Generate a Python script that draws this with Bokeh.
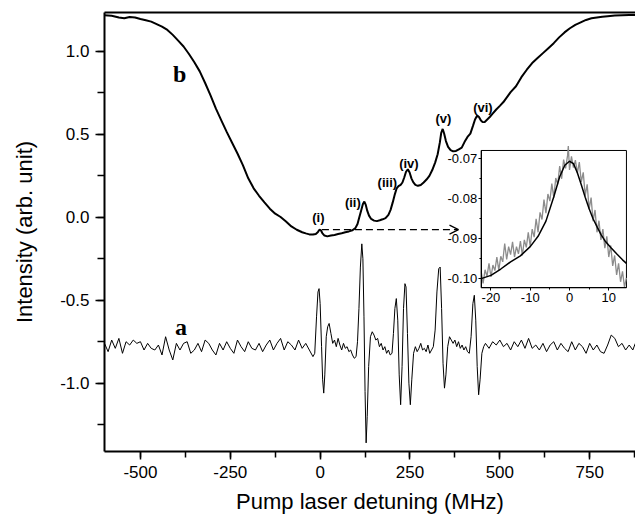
from bokeh.plotting import figure
from bokeh.models import (Range1d, LinearAxis, SingleIntervalTicker, FixedTicker,
                          PrintfTickFormatter, Arrow, OpenHead)
from bokeh.core.properties import value
from bokeh.embed import file_html
from bokeh.resources import INLINE

# ---------------- data ----------------
# trace b (absorption / transmission signal)
b_x = [-600, -580, -560, -545, -530, -515, -500, -485, -470, -455,
       -440, -425, -410, -395, -380, -365, -350, -335, -320, -305,
       -290, -275, -260, -245, -230, -215, -200, -185, -170, -155,
       -140, -125, -110, -95, -80, -65, -50, -40, -30, -20,
       -12, -6, -2, 2, 6, 12, 20, 30, 40, 50,
       60, 70, 80, 90, 98, 104, 109, 114, 119, 123,
       127, 131, 136, 142, 150, 158, 166, 174, 182, 190,
       196, 202, 208, 213, 218, 224, 229, 234, 239, 244,
       249, 254, 259, 265, 272, 280, 288, 296, 304, 312,
       320, 327, 333, 337, 341, 345, 350, 356, 363, 370,
       378, 386, 394, 402, 410, 418, 425, 431, 437, 442,
       447, 452, 458, 465, 472, 480, 490, 500, 510, 520,
       530, 545, 560, 575, 590, 605, 620, 635, 650, 665,
       680, 695, 710, 725, 740, 755, 770, 785, 800, 820,
       840, 860, 877]
b_y = [1.219, 1.215, 1.205, 1.200, 1.208, 1.205, 1.196, 1.188, 1.180, 1.165,
       1.150, 1.130, 1.100, 1.065, 1.030, 0.985, 0.935, 0.880, 0.810, 0.735,
       0.655, 0.585, 0.515, 0.450, 0.385, 0.315, 0.235, 0.175, 0.130, 0.090,
       0.052, 0.022, 0.002, -0.025, -0.055, -0.075, -0.090, -0.097, -0.103, -0.104,
       -0.100, -0.088, -0.075, -0.078, -0.095, -0.110, -0.115, -0.110, -0.106, -0.101,
       -0.096, -0.090, -0.085, -0.078, -0.065, -0.040, 0.000, 0.040, 0.080, 0.095,
       0.075, 0.040, 0.010, -0.010, -0.020, -0.023, -0.018, -0.012, -0.005, 0.015,
       0.045, 0.090, 0.140, 0.175, 0.188, 0.196, 0.210, 0.240, 0.275, 0.290,
       0.270, 0.235, 0.212, 0.196, 0.190, 0.195, 0.210, 0.228, 0.250, 0.285,
       0.330, 0.380, 0.450, 0.510, 0.533, 0.505, 0.460, 0.425, 0.405, 0.398,
       0.400, 0.410, 0.420, 0.455, 0.485, 0.505, 0.550, 0.590, 0.614, 0.605,
       0.585, 0.574, 0.575, 0.590, 0.605, 0.625, 0.650, 0.672, 0.695, 0.725,
       0.755, 0.790, 0.845, 0.890, 0.930, 0.960, 0.990, 1.020, 1.050, 1.085,
       1.115, 1.140, 1.160, 1.175, 1.190, 1.200, 1.205, 1.210, 1.213, 1.217,
       1.219, 1.220, 1.220]

# trace a (derivative / modulation signal)
a_x = [-600, -590, -580, -570, -560, -550, -540, -530, -520, -510,
       -500, -490, -480, -470, -460, -450, -440, -430, -420, -410,
       -400, -390, -380, -370, -360, -350, -340, -330, -320, -310,
       -300, -290, -280, -270, -260, -250, -240, -230, -220, -210,
       -200, -190, -180, -170, -160, -150, -140, -130, -120, -110,
       -100, -90, -80, -70, -60, -50, -40, -30,
       -20, -15, -10, -6, -3, 0, 4, 7, 10, 13,
       17, 21, 25, 30, 35, 40, 45, 50, 55, 60,
       65, 70, 75, 80, 85, 90, 95, 100, 104, 108,
       112, 116, 119, 122, 125, 128, 131, 135, 140, 145,
       150, 155, 160, 165, 170, 175, 180, 185, 190, 195,
       200, 204, 208, 212, 216, 220, 224, 228, 232, 236,
       239, 243, 247, 251, 255, 260, 265, 270, 275, 280,
       285, 290, 295, 300, 305, 310, 315, 320, 325, 330,
       334, 338, 342, 346, 350, 355, 360, 365, 370, 375,
       380, 385, 390, 395, 400, 405, 410, 415, 420, 425,
       429, 433, 437, 441, 445, 450, 455,
       460, 470, 480, 490, 500, 510, 520, 530, 540, 550,
       560, 570, 580, 590, 600, 610, 620, 630, 640, 650,
       660, 670, 680, 690, 700, 710, 720, 730, 740, 750,
       760, 770, 780, 790, 800, 810, 820, 830, 840, 850,
       860, 870, 877]
a_y = [-0.76, -0.81, -0.74, -0.79, -0.73, -0.82, -0.75, -0.77, -0.74, -0.76,
       -0.75, -0.80, -0.76, -0.79, -0.80, -0.77, -0.83, -0.72, -0.80, -0.86,
       -0.76, -0.80, -0.76, -0.75, -0.82, -0.80, -0.76, -0.81, -0.74, -0.76,
       -0.80, -0.83, -0.76, -0.80, -0.75, -0.79, -0.82, -0.74, -0.78, -0.81,
       -0.75, -0.79, -0.80, -0.76, -0.81, -0.77, -0.74, -0.80, -0.76, -0.73,
       -0.80, -0.75, -0.77, -0.80, -0.74, -0.79, -0.76, -0.80,
       -0.84, -0.82, -0.60, -0.45, -0.43, -0.52, -0.78, -0.98, -1.06, -0.95,
       -0.72, -0.66, -0.64, -0.70, -0.76, -0.74, -0.78, -0.73, -0.77, -0.80,
       -0.76, -0.79, -0.78, -0.81, -0.80, -0.83, -0.85, -0.84, -0.75, -0.55,
       -0.30, -0.16, -0.25, -0.60, -1.05, -1.36, -1.20, -0.90, -0.72, -0.69,
       -0.71, -0.74, -0.73, -0.78, -0.76, -0.80, -0.78, -0.82, -0.80, -0.83,
       -0.82, -0.70, -0.55, -0.49, -0.62, -0.95, -1.13, -0.90, -0.55, -0.40,
       -0.42, -0.70, -1.00, -1.13, -0.98, -0.82, -0.78, -0.81, -0.79, -0.76,
       -0.80, -0.79, -0.81, -0.77, -0.82, -0.80, -0.78, -0.68, -0.45, -0.31,
       -0.30, -0.55, -0.88, -1.03, -0.95, -0.78, -0.72, -0.74, -0.76, -0.74,
       -0.78, -0.75, -0.79, -0.77, -0.80, -0.78, -0.81, -0.82, -0.72, -0.52,
       -0.47, -0.62, -0.90, -1.07, -0.98, -0.82, -0.78,
       -0.76, -0.79, -0.75, -0.77, -0.74, -0.78, -0.76, -0.80, -0.75, -0.78,
       -0.74, -0.79, -0.73, -0.79, -0.77, -0.80, -0.76, -0.81, -0.77, -0.75,
       -0.80, -0.76, -0.79, -0.81, -0.75, -0.80, -0.76, -0.78, -0.82, -0.76,
       -0.80, -0.77, -0.81, -0.82, -0.77, -0.71, -0.73, -0.78, -0.76, -0.80,
       -0.77, -0.80, -0.76]

# peak labels on trace b
peak_labels = ["(i)", "(ii)", "(iii)", "(iv)", "(v)", "(vi)"]
peak_label_x = [-5, 91, 187, 247, 343, 453]
peak_label_y = [0.000, 0.090, 0.207, 0.323, 0.594, 0.664]

# trace names
trace_names = ["b", "a"]
trace_name_x = [-391, -387]
trace_name_y = [0.867, -0.660]

# inset: measured data (grey) and fit (black)
inset_x = [-22.5, -22.0, -21.5, -21.0, -20.5, -20.0, -19.5, -19.0, -18.5, -18.0,
           -17.5, -17.0, -16.5, -16.0, -15.5, -15.0, -14.5, -14.0, -13.5, -13.0,
           -12.5, -12.0, -11.5, -11.0, -10.5, -10.0, -9.5, -9.0, -8.5, -8.0,
           -7.5, -7.0, -6.5, -6.0, -5.5, -5.0, -4.5, -4.0, -3.5, -3.0,
           -2.5, -2.0, -1.5, -1.0, -0.5, -0.3, 0.0, 0.5, 1.0, 1.5,
           2.0, 2.5, 3.0, 3.5, 4.0, 4.5, 5.0, 5.5, 6.0, 6.5,
           7.0, 7.5, 8.0, 8.5, 9.0, 9.5, 10.0, 10.5, 11.0, 11.5,
           12.0, 12.5, 13.0, 13.5, 14.0, 14.5]
inset_y = [-0.0982, -0.1012, -0.0978, -0.0994, -0.0962, -0.0996, -0.0966, -0.0980, -0.0946, -0.0979,
           -0.0944, -0.0958, -0.0912, -0.0952, -0.0920, -0.0940, -0.0908, -0.0946, -0.0920, -0.0938,
           -0.0906, -0.0942, -0.0903, -0.0922, -0.0884, -0.0919, -0.0876, -0.0896, -0.0850, -0.0884,
           -0.0834, -0.0852, -0.0802, -0.0836, -0.0788, -0.0806, -0.0762, -0.0797, -0.0748, -0.0764,
           -0.0718, -0.0750, -0.0702, -0.0724, -0.0692, -0.0668, -0.0728, -0.0694, -0.0722, -0.0703,
           -0.0736, -0.0708, -0.0758, -0.0734, -0.0792, -0.0764, -0.0826, -0.0797, -0.0856, -0.0828,
           -0.0884, -0.0855, -0.0903, -0.0876, -0.0924, -0.0894, -0.0946, -0.0917, -0.0968, -0.0942,
           -0.0991, -0.0962, -0.1008, -0.0982, -0.1021, -0.0998]
fit_x = [-22.5, -20, -17.5, -15, -12.5, -10, -8, -6, -4, -2.5, -1.2, 0,
         1, 2, 3, 4, 5, 6, 7, 8, 9, 10.5, 12, 13.5, 14.5]
fit_y = [-0.1000, -0.0992, -0.0976, -0.0958, -0.0943, -0.0920, -0.0894, -0.0856,
         -0.0795, -0.0745, -0.0716, -0.0706, -0.0712, -0.0735, -0.0765, -0.0796,
         -0.0825, -0.0850, -0.0870, -0.0889, -0.0905, -0.0922, -0.0938, -0.0953, -0.0962]

inset_y_ticks = [-0.10, -0.09, -0.08, -0.07]
inset_x_ticks = [-20, -10, 0, 10]

# ---------------- layout constants ----------------
X_RANGE = (-600.0, 877.5)
Y_RANGE = (-1.412, 1.235)
INSET_X = (-22.5, 14.5)          # inset data limits
INSET_Y = (-0.1023, -0.0679)
BOX_X = (448.0, 852.3)           # where the inset sits, in main data units
BOX_Y = (-0.4248, 0.4031)
ARROW = dict(x_start=5, y_start=-0.074, x_end=385, y_end=-0.074)

SANS = "Liberation Sans"
SERIF = "Liberation Serif"

p = figure(width=635, height=517, output_backend="svg", toolbar_location=None,
           x_range=Range1d(*X_RANGE), y_range=Range1d(*Y_RANGE),
           x_axis_type=None, y_axis_type=None,
           min_border_left=104, min_border_right=0, min_border_top=12, min_border_bottom=66)
p.outline_line_color = None
p.background_fill_color = "white"
p.border_fill_color = "white"


def style_main(ax):
    ax.axis_line_width = 2
    ax.axis_line_color = "black"
    ax.major_tick_line_width = 1.5
    ax.minor_tick_line_width = 1.5
    ax.major_tick_line_color = "black"
    ax.minor_tick_line_color = "black"
    ax.major_tick_in = 0
    ax.minor_tick_in = 0
    ax.major_label_text_font = SANS
    ax.major_label_text_font_size = "17px"
    ax.major_label_text_color = "black"
    ax.axis_label_text_font = SANS
    ax.axis_label_text_font_size = "22px"
    ax.axis_label_text_font_style = "normal"
    ax.axis_label_text_color = "black"


yax = LinearAxis(ticker=SingleIntervalTicker(interval=0.5, num_minor_ticks=2),
                 formatter=PrintfTickFormatter(format="%.1f"),
                 axis_label="Intensity (arb. unit)")
style_main(yax)
yax.major_tick_out = 9
yax.minor_tick_out = 7
yax.major_label_standoff = 6
yax.axis_label_standoff = 20
p.add_layout(yax, "left")

xax = LinearAxis(ticker=SingleIntervalTicker(interval=250, num_minor_ticks=2),
                 formatter=PrintfTickFormatter(format="%d"),
                 axis_label="Pump laser detuning (MHz)")
style_main(xax)
xax.major_tick_out = 8
xax.minor_tick_out = 6
xax.major_label_standoff = 6
xax.axis_label_standoff = 8
p.add_layout(xax, "below")

top = LinearAxis(ticker=FixedTicker(ticks=[]), axis_line_width=2,
                 major_tick_out=0, major_tick_in=0, minor_tick_out=0, minor_tick_in=0,
                 major_label_standoff=0)
p.add_layout(top, "above")

# main traces
p.line(b_x, b_y, line_color="black", line_width=2)
p.line(a_x, a_y, line_color="black", line_width=1)

p.text(x=peak_label_x, y=peak_label_y, text=peak_labels,
       text_font=value(SANS), text_font_style="bold", text_font_size="13px",
       text_align="center", text_baseline="middle", text_color="black")
p.text(x=trace_name_x, y=trace_name_y, text=trace_names,
       text_font=value(SERIF), text_font_style="bold", text_font_size="24px",
       text_align="center", text_baseline="alphabetic", text_color="black")

p.add_layout(Arrow(end=OpenHead(size=9, line_width=1.2, line_color="black"),
                   line_dash="7 4", line_width=1.3, line_color="black", **ARROW))

# ---------------- inset via extra ranges ----------------
sx = (BOX_X[1] - BOX_X[0]) / (INSET_X[1] - INSET_X[0])
sy = (BOX_Y[1] - BOX_Y[0]) / (INSET_Y[1] - INSET_Y[0])
p.extra_x_ranges = {"ix": Range1d(INSET_X[0] + (X_RANGE[0] - BOX_X[0]) / sx,
                                  INSET_X[1] + (X_RANGE[1] - BOX_X[1]) / sx)}
p.extra_y_ranges = {"iy": Range1d(INSET_Y[0] + (Y_RANGE[0] - BOX_Y[0]) / sy,
                                  INSET_Y[1] + (Y_RANGE[1] - BOX_Y[1]) / sy)}

p.quad(left=[INSET_X[0]], right=[INSET_X[1]], bottom=[INSET_Y[0]], top=[INSET_Y[1]],
       fill_color="white", line_color="black", line_width=1,
       x_range_name="ix", y_range_name="iy")
p.line(inset_x, inset_y, line_color="#8c8c8c", line_width=1.3,
       x_range_name="ix", y_range_name="iy")
p.line(fit_x, fit_y, line_color="black", line_width=1.5,
       x_range_name="ix", y_range_name="iy")


def style_inset(ax):
    ax.axis_line_width = 1
    ax.axis_line_color = "black"
    ax.major_tick_out = 3
    ax.major_tick_in = 0
    ax.minor_tick_out = 2
    ax.minor_tick_in = 0
    ax.major_label_text_font = SANS
    ax.major_label_text_font_size = "13px"
    ax.major_label_text_color = "black"


iyax = LinearAxis(x_range_name="ix", y_range_name="iy", fixed_location=INSET_X[0],
                  bounds=INSET_Y,
                  ticker=FixedTicker(ticks=inset_y_ticks, minor_ticks=[-0.095, -0.085, -0.075]),
                  formatter=PrintfTickFormatter(format="%.2f"))
style_inset(iyax)
iyax.major_label_standoff = 1
p.add_layout(iyax, "left")

ixax = LinearAxis(x_range_name="ix", y_range_name="iy", fixed_location=INSET_Y[0],
                  bounds=INSET_X,
                  ticker=FixedTicker(ticks=inset_x_ticks, minor_ticks=[-15, -5, 5]),
                  formatter=PrintfTickFormatter(format="%d"))
style_inset(ixax)
ixax.major_label_standoff = 2
p.add_layout(ixax, "below")

open("out.html", "w").write(file_html(p, INLINE))
